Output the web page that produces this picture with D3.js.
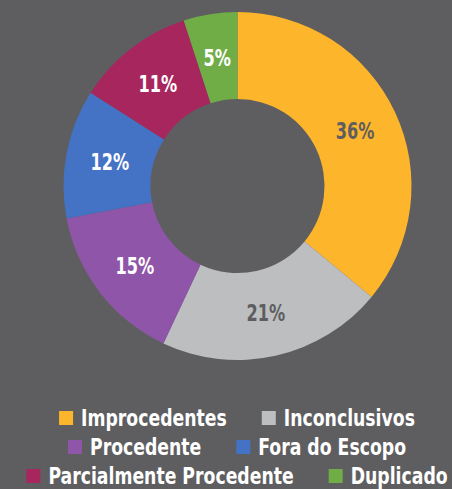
<!DOCTYPE html>
<html><head><meta charset="utf-8">
<script src="https://cdn.jsdelivr.net/npm/d3@7"></script>
<style>html,body{margin:0;padding:0;background:#5e5e60;}</style>
</head><body>
<svg id="c" width="452" height="489"></svg>
<script>
const categories = ["Improcedentes","Inconclusivos","Procedente","Fora do Escopo","Parcialmente Procedente","Duplicado"];
const values = [36, 21, 15, 12, 11, 5];
const colors = ["#fdb52b","#bdbec0","#8f55a8","#4472c4","#a8265e","#70ad47"];
const labelColors = ["#5e5e60","#5e5e60","#ffffff","#ffffff","#ffffff","#ffffff"];
const legendRows = [[0,1],[2,3],[4,5]];

const FONT = "'DejaVu Sans Condensed','DejaVu Sans',sans-serif";
const svg = d3.select("#c");
svg.append("rect").attr("width",452).attr("height",489).attr("fill","#5e5e60");
const cx = 237.5, cy = 186, R = 174, r0 = 87;
const data = categories.map((c,i)=>({c, v: values[i], i}));
const pie = d3.pie().value(d=>d.v).sort(null);
const arc = d3.arc().innerRadius(r0).outerRadius(R);
const labelArc = d3.arc().innerRadius(130).outerRadius(130);
const g = svg.append("g").attr("transform",`translate(${cx},${cy})`);
const arcs = pie(data);
g.selectAll("path").data(arcs).join("path").attr("d",arc).attr("fill",d=>colors[d.data.i]);
g.selectAll("g.lbl").data(arcs).join("g").attr("class","lbl")
  .attr("transform",d=>`translate(${labelArc.centroid(d)}) scale(0.78,1)`)
  .append("text")
  .attr("text-anchor","middle").attr("dy","0.36em")
  .attr("font-family",FONT).attr("font-weight","bold").attr("font-size",23)
  .attr("fill",d=>labelColors[d.data.i])
  .text(d=>d.data.v+"%");

const lg = svg.append("g");
const rowY = [418, 447, 476];
const sq = 14, gapT = 8, gapItem = 35, sx = 0.835;
legendRows.forEach((row, ri)=>{
  const rg = lg.append("g");
  let x = 0;
  row.forEach(i=>{
    rg.append("rect").attr("x",x).attr("y",rowY[ri]-sq/2).attr("width",sq).attr("height",sq).attr("fill",colors[i]);
    const tg = rg.append("g").attr("transform",`translate(${x+sq+gapT},${rowY[ri]}) scale(${sx},1)`);
    const t = tg.append("text").attr("dy","0.36em")
      .attr("font-family",FONT).attr("font-weight","bold").attr("font-size",23).attr("fill","#ffffff")
      .text(categories[i]);
    x += sq+gapT+t.node().getComputedTextLength()*sx+gapItem;
  });
  const w = x - gapItem;
  rg.attr("transform",`translate(${237 - w/2},0)`);
});
</script>
</body></html>
